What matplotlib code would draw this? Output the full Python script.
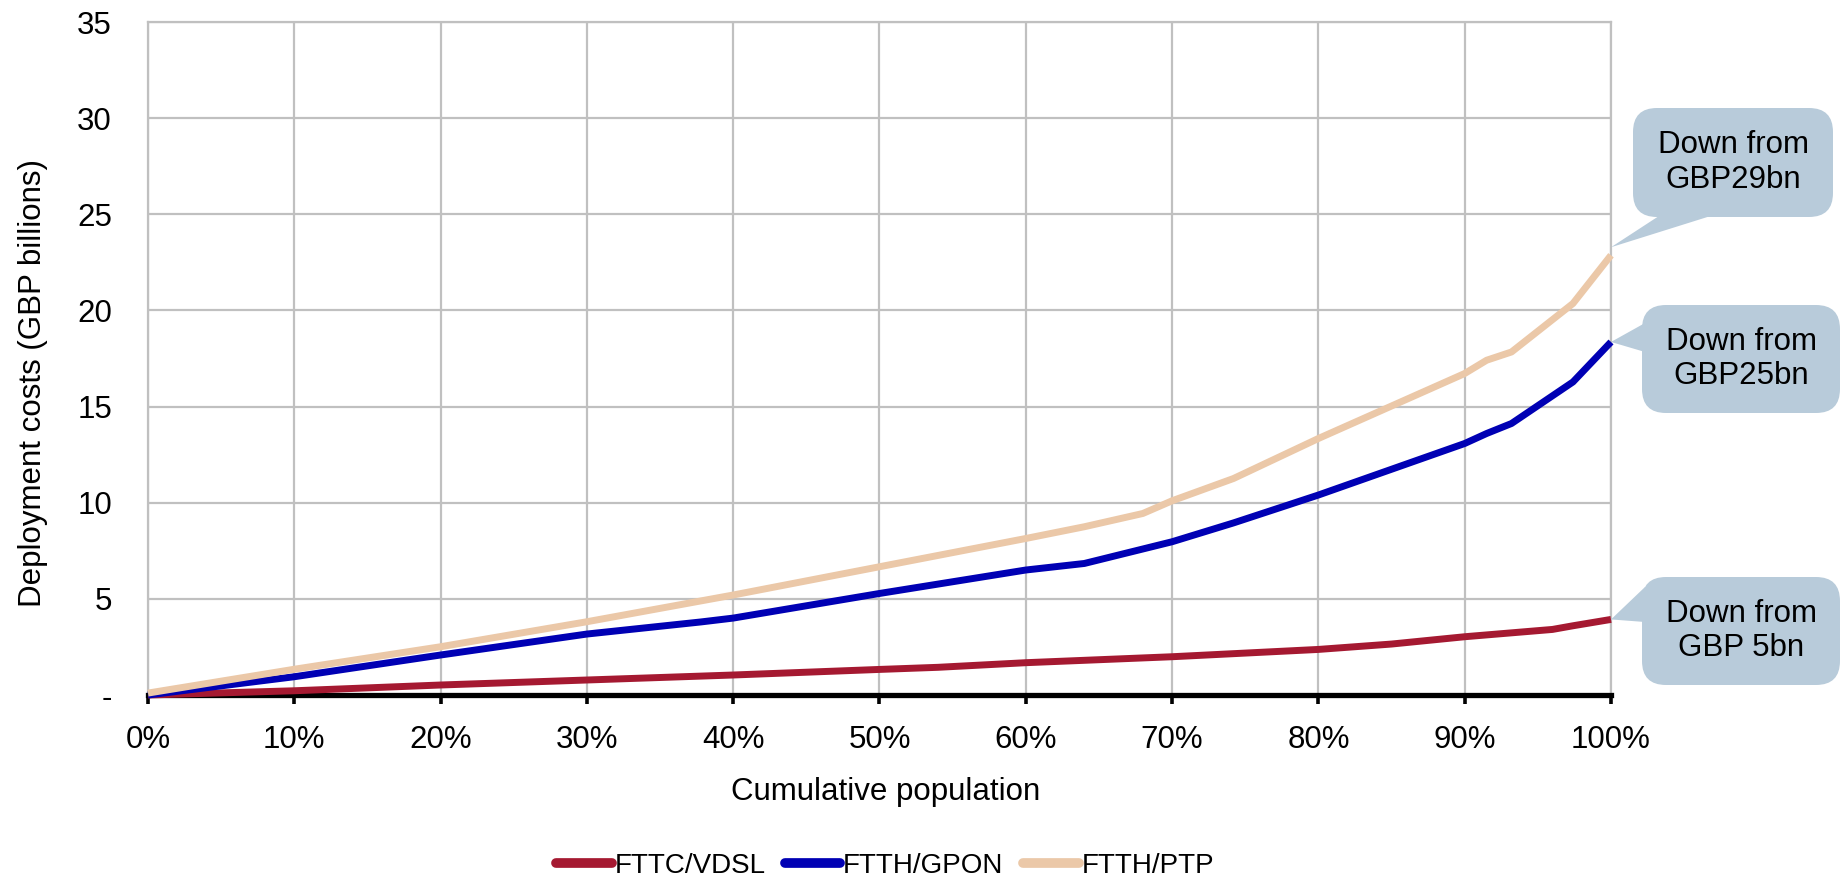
import matplotlib
matplotlib.use("Agg")
import matplotlib.pyplot as plt
from matplotlib.patches import FancyBboxPatch, Polygon

plt.rcParams['font.family'] = ['Liberation Sans', 'DejaVu Sans']

# ---- data ----
x_vdsl = [0, 10, 20, 30, 40, 50, 54, 60, 70, 75, 80, 85, 90, 96, 97.4, 100]
y_vdsl = [0, 0.22, 0.52, 0.78, 1.04, 1.33, 1.44, 1.68, 1.99, 2.18, 2.37, 2.65, 3.03, 3.41, 3.6, 3.93]

x_gpon = [0, 10, 20, 30, 37.8, 40, 50, 60, 64, 70, 74.2, 80, 90, 91.5, 93.2, 97.4, 100]
y_gpon = [0, 0.95, 2.08, 3.17, 3.8, 4.0, 5.28, 6.5, 6.84, 7.97, 8.95, 10.4, 13.08, 13.6, 14.12, 16.28, 18.36]

x_ptp = [0, 10, 20, 30, 40, 50, 60, 64, 68, 70, 74.2, 80, 90, 91.5, 93.2, 97.4, 100]
y_ptp = [0.1, 1.34, 2.51, 3.81, 5.2, 6.67, 8.14, 8.75, 9.44, 10.1, 11.26, 13.34, 16.72, 17.41, 17.84, 20.36, 22.87]

series_names = ["FTTC/VDSL", "FTTH/GPON", "FTTH/PTP"]
series_colors = ["#A51931", "#0000B4", "#EBC8A8"]

x_ticks = list(range(0, 101, 10))
x_tick_labels = [f"{t}%" for t in x_ticks]
y_ticks = [0, 5, 10, 15, 20, 25, 30, 35]
y_tick_labels = ["-", "5", "10", "15", "20", "25", "30", "35"]

callout_texts = ["Down from\nGBP29bn", "Down from\nGBP25bn", "Down from\nGBP 5bn"]

# ---- figure ----
W, H = 1847, 880
FS = 22.5
fig = plt.figure(figsize=(W / 100, H / 100), dpi=100)
ax = fig.add_axes([148 / W, 1 - 695 / H, (1611 - 148) / W, (695 - 22) / H])

grid_c = "#C0C0C0"
ax.set_xlim(0, 100)
ax.set_ylim(0, 35)
ax.set_xticks(x_ticks)
ax.set_xticklabels(x_tick_labels, fontsize=FS)
ax.set_yticks(y_ticks)
ax.set_yticklabels(y_tick_labels, fontsize=FS)
ax.grid(True, color=grid_c, lw=1.6)
ax.set_axisbelow(True)
for s in ["left", "top", "right"]:
    ax.spines[s].set_color(grid_c)
    ax.spines[s].set_linewidth(1.6)
ax.spines["bottom"].set_color("black")
ax.spines["bottom"].set_linewidth(3.8)
ax.spines["bottom"].set_zorder(2.5)
ax.tick_params(axis="x", direction="out", length=6.5, width=2.6, color="black", pad=15)
ax.tick_params(axis="y", length=0, pad=26)

xs = [x_vdsl, x_gpon, x_ptp]
ys = [y_vdsl, y_gpon, y_ptp]
lines = []
for xx, yy, name, c in zip(xs, ys, series_names, series_colors):
    ln, = ax.plot(xx, yy, color=c, lw=5.0, label=name, solid_capstyle="butt", zorder=3, clip_on=False)
    lines.append(ln)

fig.text(886 / W, 1 - 792 / H, "Cumulative population", ha="center", va="center", fontsize=FS)
fig.text(33 / W, 1 - 383 / H, "Deployment costs (GBP billions)", ha="center", va="center",
         rotation=90, fontsize=FS)

leg = fig.legend(handles=lines, loc="center", bbox_to_anchor=(885 / W, 1 - 866 / H),
                 ncol=3, frameon=False, fontsize=20, handlelength=2.0, handletextpad=0.1,
                 columnspacing=0.7, borderaxespad=0)
for h in leg.legend_handles:
    h.set_linewidth(7)
    h.set_solid_capstyle("round")

# ---- callouts (overlay in pixel coords, y up) ----
ov = fig.add_axes([0, 0, 1, 1], zorder=5)
ov.set_xlim(0, W)
ov.set_ylim(0, H)
ov.axis("off")
ov.patch.set_alpha(0)

call_c = "#B8CBDA"
ends = [(x_ptp[-1], y_ptp[-1]), (x_gpon[-1], y_gpon[-1]), (x_vdsl[-1], y_vdsl[-1])]
tips = [tuple(ax.transData.transform(e)) for e in ends]

# boxes: (x0, y0, x1, y1) in pixel coords y-up
boxes = [(1633, 663, 1833, 772), (1642, 467, 1840, 575), (1642, 195, 1840, 303)]
bases = [
    [(1662, 666), (1717, 666)],
    [(1645, 528), (1645, 557)],
    [(1645, 258), (1645, 293)],
]
for (x0, y0, x1, y1), base, tip, txt in zip(boxes, bases, tips, callout_texts):
    box = FancyBboxPatch((x0, y0), x1 - x0, y1 - y0,
                         boxstyle="round,pad=0,rounding_size=24",
                         fc=call_c, ec="none")
    ov.add_patch(box)
    tx, ty = tip
    if base[0][1] == base[1][1]:
        tip_pt = (tx, ty + 8)
    else:
        tip_pt = (tx, ty)
    ov.add_patch(Polygon([base[0], base[1], tip_pt], closed=True, fc=call_c, ec="none"))
    ov.text((x0 + x1) / 2, (y0 + y1) / 2, txt, ha="center", va="center",
            fontsize=FS, linespacing=1.2)

fig.savefig("out.png", dpi=100)
